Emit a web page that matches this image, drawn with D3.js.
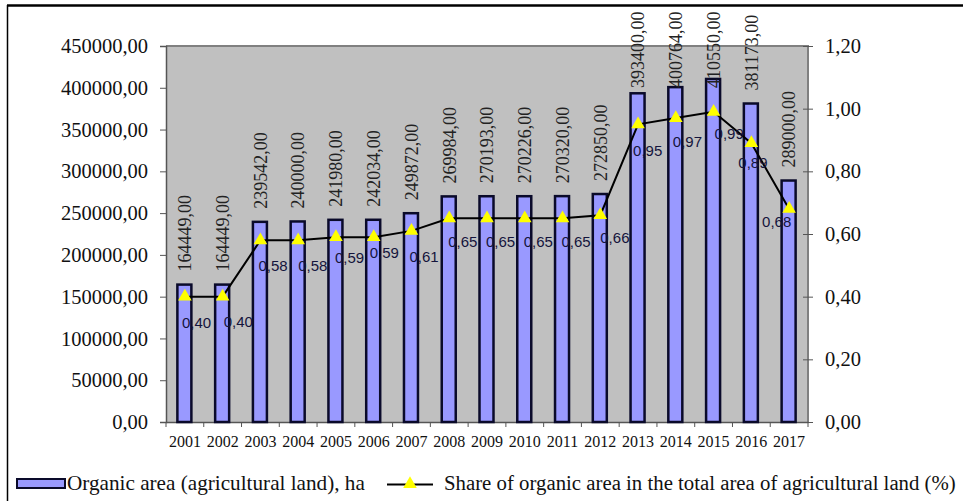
<!DOCTYPE html>
<html>
<head>
<meta charset="utf-8">
<script src="https://cdn.jsdelivr.net/npm/d3@7"></script>
<style>
  html, body { margin: 0; padding: 0; background: #fff; }
  svg { display: block; }
</style>
</head>
<body>
<svg id="chart" width="963" height="501"></svg>
<script>
// Organic farming: area and share of agricultural land, 2001–2017
const years = ["2001","2002","2003","2004","2005","2006","2007","2008","2009",
               "2010","2011","2012","2013","2014","2015","2016","2017"];
const organicArea = [164449, 164449, 239542, 240000, 241980, 242034, 249872, 269984,
                     270193, 270226, 270320, 272850, 393400, 400764, 410550, 381173, 289000];
const organicShare = [0.40, 0.40, 0.58, 0.58, 0.59, 0.59, 0.61, 0.65, 0.65,
                      0.65, 0.65, 0.66, 0.95, 0.97, 0.99, 0.89, 0.68];
const areaTicks = [0, 50000, 100000, 150000, 200000, 250000, 300000, 350000, 400000, 450000];
const shareTicks = [0, 0.2, 0.4, 0.6, 0.8, 1.0, 1.2];
// small offsets of the share labels from their markers [dx, dy]
const shareLabelNudge = [[-3,26],[1,25],[-2,25],[0,25],[-1,21],[-4,16],[-2,26],[-1,23],[-1,23],
                         [-1,23],[-1,23],[0,23],[-5,26],[-3,24],[1,22],[-13,20],[-27,13]];
const legendLabels = ["Organic area (agricultural land), ha",
                      "Share of organic area in the total area of agricultural land (%)"];

const fmt2 = v => v.toFixed(2).replace(".", ",");

const svg = d3.select("#chart");
const plot = { left: 166, top: 46, right: 808, bottom: 422 };

const x = d3.scaleBand().domain(years).range([plot.left, plot.right]);
const yArea = d3.scaleLinear().domain([0, 450000]).range([plot.bottom, plot.top]);
const yShare = d3.scaleLinear().domain([0, 1.2]).range([plot.bottom, plot.top]);

const serif = "'Liberation Serif', 'Times New Roman', serif";
const sans = "'Liberation Sans', Arial, sans-serif";

// outer frame (top and left edges)
svg.append("line").attr("x1", 7).attr("x2", 963).attr("y1", 5.5).attr("y2", 5.5)
  .attr("stroke", "#000").attr("stroke-width", 2.5);
svg.append("line").attr("x1", 7.5).attr("x2", 7.5).attr("y1", 5).attr("y2", 501)
  .attr("stroke", "#000").attr("stroke-width", 1.5);

// plot background
svg.append("rect")
  .attr("x", plot.left).attr("y", plot.top)
  .attr("width", plot.right - plot.left).attr("height", plot.bottom - plot.top)
  .attr("fill", "#c0c0c0");
svg.append("path")
  .attr("d", `M${plot.left},${plot.top}H${plot.right}V${plot.bottom}`)
  .attr("fill", "none").attr("stroke", "#808080").attr("stroke-width", 2);

// left axis
const leftAxis = svg.append("g")
  .attr("transform", `translate(${plot.left},0)`)
  .call(d3.axisLeft(yArea).tickValues(areaTicks).tickFormat(fmt2).tickSize(6).tickPadding(12));
leftAxis.select(".domain").attr("stroke", "#555").attr("stroke-width", 1.5);
leftAxis.selectAll(".tick line").attr("stroke", "#555");
leftAxis.selectAll("text").attr("font-family", serif).attr("font-size", 20.5).attr("fill", "#111");

// right axis (ticks cross the axis line)
const rightAxis = svg.append("g")
  .attr("transform", `translate(${plot.right},0)`)
  .call(d3.axisRight(yShare).tickValues(shareTicks).tickFormat(fmt2).tickSize(5).tickPadding(12));
rightAxis.select(".domain").remove();
rightAxis.selectAll(".tick line").attr("x1", -5).attr("x2", 5).attr("stroke", "#555");
rightAxis.selectAll("text").attr("font-family", serif).attr("font-size", 20.5).attr("fill", "#111");

// bottom axis: ticks between categories
const bottomAxis = svg.append("g")
  .attr("transform", `translate(0,${plot.bottom})`)
  .call(d3.axisBottom(x).tickSize(0).tickPadding(14));
bottomAxis.select(".domain").attr("stroke", "#555").attr("stroke-width", 1.5);
bottomAxis.selectAll("text").attr("font-family", serif).attr("font-size", 16).attr("fill", "#111");
svg.append("g").selectAll("line")
  .data(years.concat(["end"]))
  .join("line")
  .attr("x1", (d, i) => plot.left + i * x.bandwidth())
  .attr("x2", (d, i) => plot.left + i * x.bandwidth())
  .attr("y1", plot.bottom).attr("y2", plot.bottom + 5)
  .attr("stroke", "#555");

// bars
const barW = 14;
svg.append("g").selectAll("rect")
  .data(organicArea)
  .join("rect")
  .attr("x", (d, i) => x(years[i]) + x.bandwidth() / 2 - barW / 2 - 0.5)
  .attr("y", d => yArea(d))
  .attr("width", barW)
  .attr("height", d => plot.bottom - yArea(d))
  .attr("fill", "#9999ff")
  .attr("stroke", "#0a0a2a")
  .attr("stroke-width", 2.5);

// bar value labels, rotated; kept inside the frame for the tallest bars
svg.append("g").selectAll("text")
  .data(organicArea)
  .join("text")
  .attr("transform", (d, i) => {
    const cx = x(years[i]) + x.bandwidth() / 2;
    const ty = Math.max(yArea(d) - 13, 88);
    return `translate(${cx},${ty}) rotate(-90)`;
  })
  .attr("dy", "0.35em")
  .attr("text-anchor", "start")
  .attr("font-family", serif).attr("font-size", 18).attr("fill", "#222")
  .text(d => fmt2(d));

// share line
const line = d3.line()
  .x((d, i) => x(years[i]) + x.bandwidth() / 2)
  .y(d => yShare(d));
svg.append("path")
  .datum(organicShare)
  .attr("d", line)
  .attr("fill", "none").attr("stroke", "#000").attr("stroke-width", 2);

// triangle markers
const tri = d3.symbol().type(d3.symbolTriangle).size(80);
svg.append("g").selectAll("path")
  .data(organicShare)
  .join("path")
  .attr("transform", (d, i) => `translate(${x(years[i]) + x.bandwidth() / 2},${yShare(d)})`)
  .attr("d", tri)
  .attr("fill", "#ffff00");

// share value labels
svg.append("g").selectAll("text")
  .data(organicShare)
  .join("text")
  .attr("x", (d, i) => x(years[i]) + x.bandwidth() / 2 + shareLabelNudge[i][0])
  .attr("y", (d, i) => yShare(d) + shareLabelNudge[i][1])
  .attr("dy", "0.35em")
  .attr("font-family", sans).attr("font-size", 15).attr("fill", "#14143c")
  .text(d => fmt2(d));

// legend
const lg = svg.append("g");
lg.append("rect").attr("x", 17).attr("y", 479).attr("width", 48).attr("height", 9)
  .attr("fill", "#9999ff").attr("stroke", "#0a0a2a").attr("stroke-width", 2);
lg.append("text").attr("x", 67).attr("y", 490)
  .attr("font-family", serif).attr("font-size", 21.2).attr("fill", "#111")
  .text(legendLabels[0]);
lg.append("line").attr("x1", 387).attr("x2", 433).attr("y1", 484.5).attr("y2", 484.5)
  .attr("stroke", "#000").attr("stroke-width", 2);
lg.append("path").attr("transform", "translate(410,484)").attr("d", tri).attr("fill", "#ffff00");
lg.append("text").attr("x", 444).attr("y", 490)
  .attr("font-family", serif).attr("font-size", 20.8).attr("fill", "#111")
  .text(legendLabels[1]);
</script>
</body>
</html>
